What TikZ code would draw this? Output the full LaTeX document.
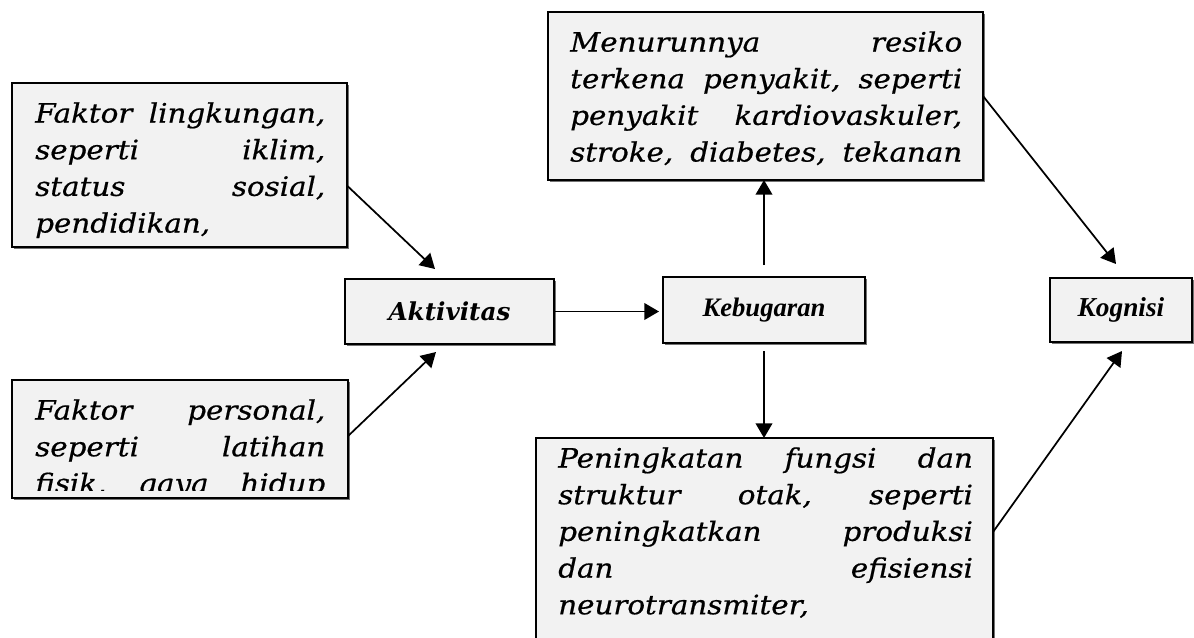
\documentclass[tikz,border=0pt]{standalone}
\usepackage{fontspec}
\setmainfont{DejaVu Serif}
\newfontfamily\timesfont{Liberation Serif}
\newfontfamily\bookfont{DejaVu Serif}[FakeStretch=1.1, FakeBold=0.6]
\usetikzlibrary{arrows.meta,shadows,calc}
\definecolor{boxfill}{HTML}{F2F2F2}
\tikzset{
  box/.style={draw, line width=1.1pt, fill=boxfill, inner sep=0pt, outer sep=0pt, anchor=north west,
    drop shadow={shadow xshift=1.3pt, shadow yshift=-1.3pt, fill=black!55, opacity=1}},
  boxtext/.style={inner sep=0pt, anchor=north west, align=left,
    font=\bookfont\fontsize{20}{27.5}\selectfont\itshape},
  arr/.style={line width=1.3pt, -{Triangle[length=11pt,width=12.5pt]}},
}
\begin{document}
\begin{tikzpicture}[x=0.75pt,y=-0.75pt]
  \useasboundingbox (0,0) rectangle (1194,637);
  \node[box, minimum width=251.25pt, minimum height=123pt] (lingkungan) at (12,83) {};
  \node[box, minimum width=252pt, minimum height=88.5pt] (personal) at (12,380) {};
  \node[box, minimum width=326.25pt, minimum height=126pt] (risiko) at (548,12) {};
  \node[box, minimum width=342.75pt, minimum height=159pt] (fungsi) at (536,438) {};
  \node[box, minimum width=156.75pt, minimum height=48.75pt,
    font=\fontsize{18.5}{22}\selectfont\bfseries\itshape] (aktivitas) at (345,279) {Aktivitas};
  \node[box, minimum width=151.5pt, minimum height=49.5pt,
    font=\timesfont\fontsize{20}{24}\selectfont\bfseries\itshape] (kebugaran) at (663,277) {Kebugaran};
  \node[box, minimum width=106.5pt, minimum height=48pt,
    font=\timesfont\fontsize{20.5}{24}\selectfont\bfseries\itshape] (kognisi) at (1050,278) {Kognisi};
  \begin{scope}
    \clip ($(lingkungan.north west)+(2,2)$) rectangle ($(lingkungan.south east)+(-2,-7)$);
    \node[boxtext, text width=217.5pt] (lingkungantext) at ($(lingkungan.north west)+(23,19)$)
      {Faktor\hfill lingkungan,\\ seperti\hfill iklim,\\ status\hfill sosial,\\ pendidikan,};
  \end{scope}
  \begin{scope}
    \clip ($(personal.north west)+(2,2)$) rectangle ($(personal.south east)+(-2,-8)$);
    \node[boxtext, text width=217.5pt] (personaltext) at ($(personal.north west)+(23,19)$)
      {Faktor\hfill personal,\\ seperti\hfill latihan\\ fisik,\hfill gaya\hfill hidup};
  \end{scope}
  \begin{scope}
    \clip ($(risiko.north west)+(2,2)$) rectangle ($(risiko.south east)+(-2,-4)$);
    \node[boxtext, text width=294pt] (risikotext) at ($(risiko.north west)+(22,19)$)
      {Menurunnya\hfill resiko\\ terkena\hfill penyakit,\hfill seperti\\
       penyakit\hfill kardiovaskuler,\\ stroke,\hfill diabetes,\hfill tekanan};
  \end{scope}
  \begin{scope}
    \clip ($(fungsi.north west)+(2,2)$) rectangle ($(fungsi.south east)+(-2,-4)$);
    \node[boxtext, text width=311pt] (fungsitext) at ($(fungsi.north west)+(22,9)$)
      {Peningkatan\hfill fungsi\hfill dan\\ struktur\hfill otak,\hfill seperti\\
       peningkatkan\hfill produksi\\ dan\hfill efisiensi\\ neurotransmiter,};
  \end{scope}
  \draw[arr] (lingkungan.-7) -- ($(aktivitas.north)+(-14.5,-10)$);
  \draw[arr] (personal.1.5) -- ($(aktivitas.south)+(-13.5,8)$);
  \draw[arr, shorten >=3pt] (aktivitas.east) -- (aktivitas.east -| kebugaran.west);
  \draw[arr, shorten <=9pt] (kebugaran.north) -- (kebugaran.north |- risiko.south);
  \draw[arr, shorten <=6pt] (kebugaran.south) -- (kebugaran.south |- fungsi.north);
  \draw[arr] (risiko.east) -- ($(kognisi.north)+(-5,-14)$);
  \draw[arr] ($(fungsi.north east)+(0,94)$) -- ($(kognisi.south)+(1,9)$);
\end{tikzpicture}
\end{document}
